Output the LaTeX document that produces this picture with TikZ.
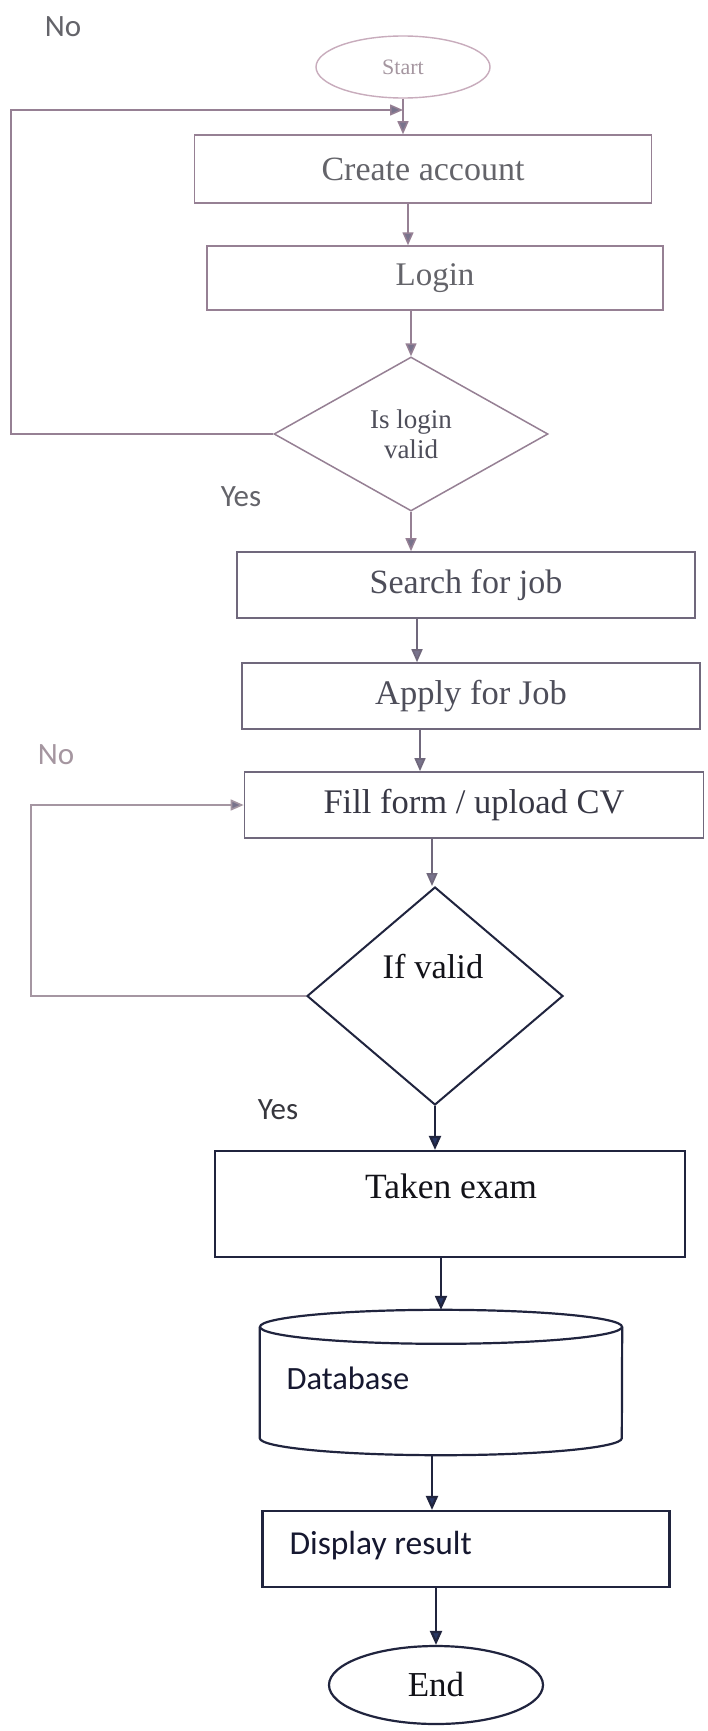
\documentclass[tikz,border=0pt]{standalone}
\usepackage{fontspec}
\setmainfont{Liberation Serif}
\newfontfamily\labelfont{Carlito}
\usetikzlibrary{arrows.meta,shapes.geometric}

% palette: the upper steps are printed faintly, the lower ones in dark ink
\definecolor{startline}{RGB}{200,172,188}
\definecolor{paleline}{RGB}{150,128,148}
\definecolor{midline}{RGB}{112,104,124}
\definecolor{loopline}{RGB}{165,150,162}
\definecolor{inkline}{RGB}{32,36,62}
\definecolor{palehead}{RGB}{120,115,140}
\definecolor{inkhead}{RGB}{40,55,100}
\definecolor{starttext}{RGB}{165,150,160}
\definecolor{paletext}{RGB}{100,100,106}
\definecolor{midtext}{RGB}{78,78,90}
\definecolor{inktext}{RGB}{18,18,24}
\definecolor{navytext}{RGB}{22,24,48}

\begin{document}
\begin{tikzpicture}[x=1pt,y=-1pt,
  stepbox/.style={draw, rectangle, inner sep=0pt},
  bigtext/.style={font=\fontsize{34}{40}\selectfont},
  sanslabel/.style={font=\labelfont\fontsize{31}{36}\selectfont},
  palearrow/.style={draw=paleline, line width=1.5pt,
    -{Triangle[length=13pt,width=11pt,fill=palehead]}},
  midarrow/.style={draw=midline, line width=1.7pt,
    -{Triangle[length=13pt,width=11pt,fill=palehead]}},
  inkarrow/.style={draw=inkline, line width=2.2pt,
    -{Triangle[length=14pt,width=12pt,fill=inkhead]}},
]
\fill[white] (0,0) rectangle (707,1731);
\useasboundingbox (0,0) rectangle (707,1731);

% ---------- upper part ----------
\node[ellipse, draw=startline, line width=1.4pt, minimum width=174pt,
      minimum height=62pt, inner sep=0pt, text=starttext,
      font=\fontsize{22}{26}\selectfont] (start) at (403,67) {Start};

\node[stepbox, draw=paleline, line width=1.5pt, minimum width=457pt,
      minimum height=68pt, text=paletext, bigtext] (create) at (423,169) {Create account};

\node[stepbox, draw=paleline, line width=1.5pt, minimum width=456pt,
      minimum height=64pt, text=paletext, font=\fontsize{33}{40}\selectfont] (login) at (435,278) {Login};

\node[diamond, draw=paleline, line width=1.5pt, minimum width=274pt,
      minimum height=154pt, inner sep=0pt, align=center, text=midtext,
      font=\fontsize{27}{30}\selectfont] (d1) at (411,434) {Is login\\valid};

\node[sanslabel, text=paletext] (no1) at (63,27) {No};
\node[sanslabel, text=paletext] (yes1) at (241,497) {Yes};

\node[stepbox, draw=midline, line width=1.6pt, minimum width=458pt,
      minimum height=66pt, text=midtext, bigtext] (search) at (466,585) {Search for job};

\node[stepbox, draw=midline, line width=1.6pt, minimum width=458pt,
      minimum height=66pt, text=midtext, font=\fontsize{34.5}{40}\selectfont] (apply) at (471,696) {Apply for Job};

\node[sanslabel, text=starttext] (no2) at (56,755) {No};

\node[stepbox, draw=midline, line width=1.7pt, minimum width=459pt,
      minimum height=66pt, text={rgb,255:red,55;green,55;blue,68},
      font=\fontsize{34.5}{40}\selectfont] (fill) at (474,805) {Fill form / upload CV};

% ---------- lower part ----------
\node[diamond, draw=inkline, line width=2pt, minimum width=256pt,
      minimum height=218pt, inner sep=0pt] (d2) at (435,996) {};
\node[text=inktext, font=\fontsize{34.5}{40}\selectfont] (d2text) at (433,967) {If valid};

\node[sanslabel, text={rgb,255:red,55;green,55;blue,62}] (yes2) at (278,1110) {Yes};

\node[stepbox, draw=inkline, line width=2.2pt, minimum width=470pt,
      minimum height=106pt] (taken) at (450,1204) {};
\node[text=inktext, font=\fontsize{35.5}{40}\selectfont] (takentext) at (451,1186) {Taken exam};

% database drum
\node[minimum width=362pt, minimum height=145pt, inner sep=0pt] (db) at (441,1382.5) {};
\draw[draw=inkline, line width=2.2pt]
  ([yshift=-17pt]db.north) ellipse [x radius=181pt, y radius=17pt];
\draw[draw=inkline, line width=2.2pt]
  ([yshift=-17pt]db.north west) -- ([yshift=17pt]db.south west)
  arc[start angle=180, end angle=360, x radius=181pt, y radius=17pt]
  -- ([yshift=-17pt]db.north east);
\node[anchor=west, text=navytext, font=\labelfont\fontsize{32.5}{38}\selectfont]
  (dbtext) at (283,1378) {Database};

\node[stepbox, draw=inkline, line width=2.2pt, minimum width=407pt,
      minimum height=76pt] (display) at (466,1549) {};
\node[anchor=west, text=navytext, font=\labelfont\fontsize{33.5}{38}\selectfont]
  (displaytext) at (286,1546) {Display result};

\node[ellipse, draw=inkline, line width=2.2pt, minimum width=214pt,
      minimum height=78pt, inner sep=0pt, text=inktext,
      font=\fontsize{35}{40}\selectfont] (end) at (436,1685) {End};

% ---------- columns of the downward connectors ----------
\coordinate (colA) at (408,0);
\coordinate (colB) at (417,0);
\coordinate (colC) at (420,0);
\coordinate (colD) at (432,0);
\coordinate (loopA) at (11,0);
\coordinate (loopB) at (31,0);
\coordinate (loopin) at (403,110);

% ---------- connectors ----------
\draw[palearrow] (start.south) -- (start.south |- create.north);
\draw[palearrow] (create.south -| colA) -- (login.north -| colA);
\draw[palearrow] (login.south -| d1.north) -- (d1.north);
\draw[palearrow] (d1.south) -- (d1.south |- search.north);
\draw[midarrow] (search.south -| colB) -- (apply.north -| colB);
\draw[midarrow] (apply.south -| colC) -- (fill.north -| colC);
\draw[midarrow] (fill.south -| colD) -- (d2.north -| colD);
\draw[inkarrow] (d2.south) -- (d2.south |- taken.north);
\draw[inkarrow] (taken.south -| db.north) -- (db.north);
\draw[inkarrow] (db.south -| colD) -- (display.north -| colD);
\draw[inkarrow] (display.south -| end.north) -- (end.north);

% "No" loops back to the left
\draw[draw=paleline, line width=1.5pt,
      -{Triangle[length=13pt,width=11pt,fill=palehead]}]
  (d1.west) -- (d1.west -| loopA) |- (loopin);
\draw[draw=loopline, line width=1.6pt,
      -{Triangle[length=13pt,width=11pt,fill=palehead]}]
  (d2.west) -- (d2.west -| loopB) |- (fill.west);
\end{tikzpicture}
\end{document}
